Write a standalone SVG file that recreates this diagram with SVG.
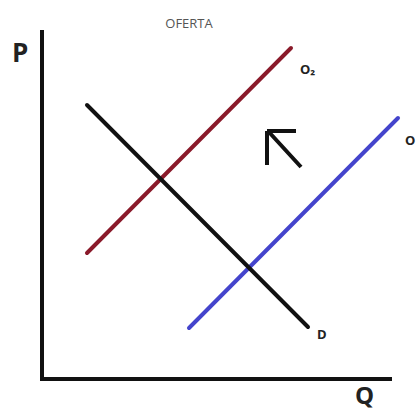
<svg xmlns="http://www.w3.org/2000/svg" width="418" height="410" viewBox="0 0 418 410">
<style>
.lbl{font-family:"Open Sans","Liberation Sans",sans-serif;font-weight:bold;fill:#222}
.ax{stroke:#111;stroke-width:4;fill:none}
.ln{stroke-width:4;fill:none;stroke-linecap:round}
</style>
<rect width="418" height="410" fill="#fff"/>
<text x="189" y="28" text-anchor="middle" style="font-family:'Open Sans','Liberation Sans',sans-serif;font-size:13px;fill:#555">OFERTA</text>
<g id="axes">
<path class="ax" d="M42,30 V379 H392"/>
<text class="lbl" x="12" y="62" style="font-size:26px">P</text>
<text class="lbl" x="355" y="404" style="font-size:24px">Q</text>
</g>
<g id="connectors">
<line id="O2" class="ln" x1="87" y1="253" x2="291" y2="48" stroke="#8a1a2a"/>
<line id="O" class="ln" x1="189" y1="328" x2="398" y2="118" stroke="#4444cc"/>
<line id="D" class="ln" x1="87" y1="105" x2="308" y2="327" stroke="#111"/>
<path d="M268,131 L301,167 M267,131 H296 M267,131 V165" stroke="#111" stroke-width="4" fill="none"/>
</g>
<text class="lbl" x="300" y="74" style="font-size:13px">O₂</text>
<text class="lbl" x="405" y="145" style="font-size:13px">O</text>
<text class="lbl" x="317" y="339" style="font-size:13px">D</text>
</svg>
